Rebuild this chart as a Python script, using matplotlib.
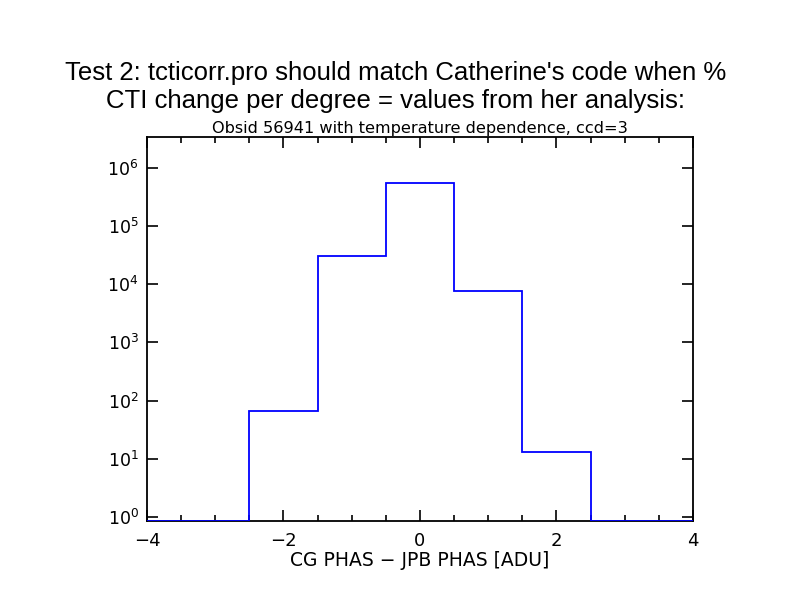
import numpy as np
import matplotlib
matplotlib.use("Agg")
import matplotlib.pyplot as plt
from matplotlib.ticker import FixedLocator, MultipleLocator, NullLocator

bin_centers = [-4, -3, -2, -1, 0, 1, 2, 3, 4]
counts = [0, 0, 67, 30400, 550000, 7600, 13, 0, 0]
y_ticks = [1, 10, 100, 1000, 1e4, 1e5, 1e6]
y_labels = [r"$10^{%d}$" % i for i in range(7)]
x_ticks = [-4, -2, 0, 2, 4]

ymin, ymax = 0.853, 10 ** 6.53

fig = plt.figure(figsize=(7.92, 6.12), dpi=100)
fig.text(0.5, 0.858, "Test 2: tcticorr.pro should match Catherine's code when %\n"
         "CTI change per degree = values from her analysis:",
         ha="center", va="center", fontsize=18.5, family="Liberation Sans",
         linespacing=1.22)

ax = fig.add_axes([0.1856, 0.1487, 0.875 - 0.1856, 0.7761 - 0.1487])
edges = np.append(np.array(bin_centers) - 0.5, bin_centers[-1] + 0.5)
vals = np.clip(np.array(counts, dtype=float), ymin, None)
ax.stairs(vals, edges, color="#0000ff", linewidth=1.3, baseline=None, zorder=3)

ax.set_yscale("log")
ax.set_xlim(-4, 4)
ax.set_ylim(ymin, ymax)
ax.yaxis.set_major_locator(FixedLocator(y_ticks))
ax.yaxis.set_minor_locator(NullLocator())
ax.set_yticklabels(y_labels)
ax.xaxis.set_major_locator(FixedLocator(x_ticks))
ax.xaxis.set_minor_locator(MultipleLocator(0.5))
ax.set_xticklabels(["\u22124", "\u22122", "0", "2", "4"])

ax.tick_params(which="both", direction="in", top=True, right=True, width=1.2,
               labelsize=12.5, color="black")
ax.tick_params(axis="x", which="major", length=8, pad=8, labelsize=13)
ax.tick_params(axis="y", which="major", length=8, pad=6)
ax.tick_params(which="minor", length=4)
for s in ax.spines.values():
    s.set_linewidth(1.3)

ax.set_title("Obsid 56941 with temperature dependence, ccd=3", fontsize=11.6, pad=3)
ax.set_xlabel("CG PHAS \u2212 JPB PHAS [ADU]", fontsize=13.5, labelpad=1)

fig.savefig("out.png", dpi=100)
